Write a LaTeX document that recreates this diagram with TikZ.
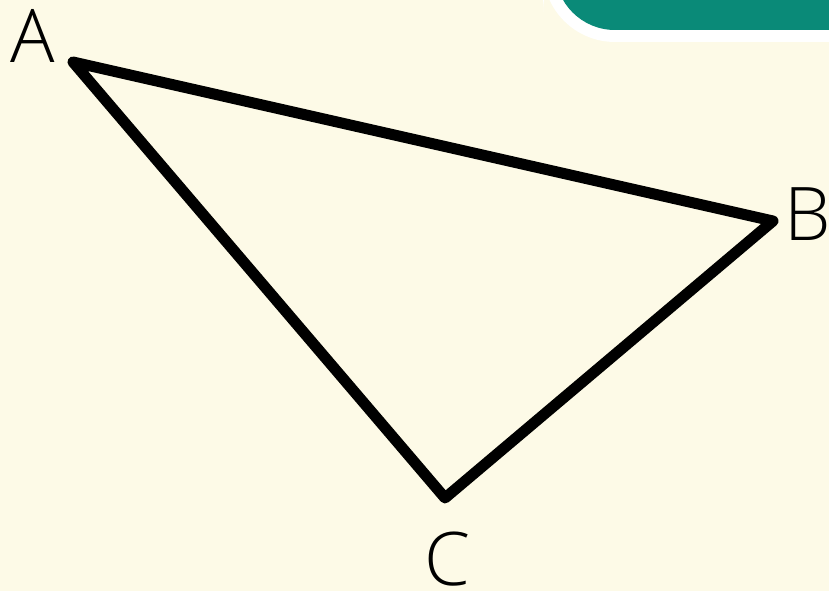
\documentclass[tikz,border=0pt]{standalone}
\usepackage{fontspec}
\setmainfont{Open Sans}
\newfontfamily\thinfont{Open Sans Light}
\usepackage{xcolor}
\definecolor{cream}{HTML}{FDFAE7}
\definecolor{banner}{HTML}{0A8A78}
\tikzset{vertexlabel/.style={font=\thinfont\fontsize{74}{80}\selectfont, inner sep=0pt}}

\begin{document}
\begin{tikzpicture}[x=1pt,y=-1pt]
\fill[cream] (0,0) rectangle (829,591);
\useasboundingbox (0,0) rectangle (829,591);
% banner in the corner
\fill[white, rounded corners=72pt] (543,-60) rectangle (900,42);
\fill[banner, rounded corners=60pt] (555,-60) rectangle (900,30);
% triangle
\coordinate (A) at (73,62);
\coordinate (B) at (773,221);
\coordinate (C) at (445,498);
\draw[line width=11pt, line join=round, line cap=round] (A) -- (B) -- (C) -- cycle;
\node[vertexlabel] (la) at (33,36) {A};
\node[vertexlabel] (lb) at (808,214) {B};
\node[vertexlabel] (lc) at (447,559) {C};
\end{tikzpicture}
\end{document}
